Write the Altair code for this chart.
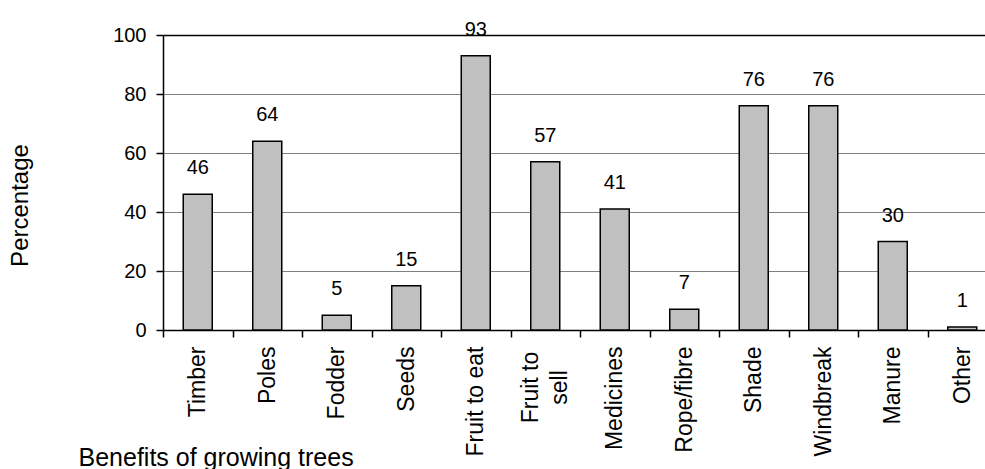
import altair as alt
import pandas as pd

categories = ["Timber", "Poles", "Fodder", "Seeds", "Fruit to eat", "Fruit to sell",
              "Medicines", "Rope/fibre", "Shade", "Windbreak", "Manure", "Other"]
values = [46, 64, 5, 15, 93, 57, 41, 7, 76, 76, 30, 1]
y_ticks = [0, 20, 40, 60, 80, 100]

x_title = "Benefits of growing trees"
y_title = "Percentage"

df = pd.DataFrame({"benefit": categories, "pct": values})

FONT = "Liberation Sans"
label_expr = "datum.label === 'Fruit to sell' ? ['Fruit to', 'sell'] : datum.label"
is_two_line = "datum.value === 'Fruit to sell'"

x_enc = alt.X(
    "benefit:N",
    sort=categories,
    scale=alt.Scale(range=[0, 834], paddingInner=0, paddingOuter=0),
    axis=alt.Axis(
        title=x_title,
        labelAngle=-90,
        labelAlign=alt.condition(is_two_line, alt.value("center"), alt.value("right")),
        labelBaseline="middle",
        labelFont=FONT,
        labelFontSize=23,
        labelColor="black",
        labelPadding=alt.condition(is_two_line, alt.value(50), alt.value(9)),
        labelLineHeight=29,
        labelExpr=label_expr,
        labelOffset=alt.condition(is_two_line, alt.value(-15), alt.value(0)),
        labelOverlap=False,
        tickBand="extent",
        tickSize=7,
        tickColor="black",
        tickWidth=1.5,
        domainColor="black",
        domainWidth=1.5,
        titleX=-85,
        titleY=135,
        titleAngle=0,
        titleAlign="left",
        titleBaseline="alphabetic",
        titleFont=FONT,
        titleFontSize=25,
        titleFontWeight="normal",
        titleColor="black",
    ),
)

y_enc = alt.Y(
    "pct:Q",
    scale=alt.Scale(domain=[0, 100], nice=False),
    axis=alt.Axis(
        values=y_ticks,
        title=y_title,
        titleX=-143,
        titleY=170,
        titleAngle=-90,
        titleAlign="center",
        titleBaseline="middle",
        titleFont=FONT,
        titleFontSize=24,
        titleFontWeight="normal",
        titleColor="black",
        grid=True,
        gridColor=alt.condition("datum.value === 100", alt.value("black"), alt.value("#808080")),
        gridWidth=alt.condition("datum.value === 100", alt.value(1.5), alt.value(1)),
        tickSize=7,
        tickColor="black",
        tickWidth=1.5,
        domainColor="black",
        domainWidth=1.5,
        labelFont=FONT,
        labelFontSize=20,
        labelColor="black",
        labelPadding=10,
    ),
)

base = alt.Chart(df).encode(x=x_enc, y=y_enc)

bars = base.mark_bar(size=29, fill="#c0c0c0", stroke="black", strokeWidth=1.5)
labels = base.mark_text(dy=-20, baseline="alphabetic", align="center",
                        font=FONT, fontSize=20, color="black").encode(text="pct:Q")

chart = alt.layer(bars, labels).properties(
    width=822,
    height=295,
    autosize=alt.AutoSizeParams(type="none"),
    padding={"left": 163, "top": 35, "right": 0, "bottom": 139},
).configure_view(stroke=None)

chart.save("out.html", embed_options={"renderer": "svg", "actions": False})
